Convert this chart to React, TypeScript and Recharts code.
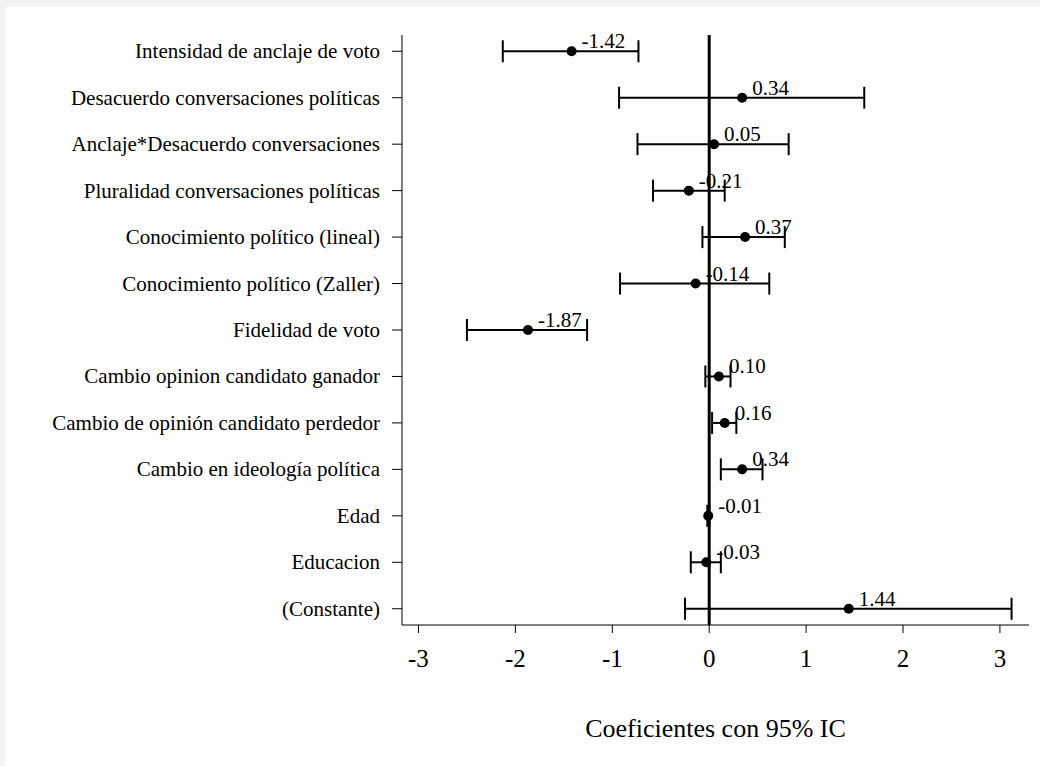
import {
  ScatterChart,
  Scatter,
  XAxis,
  YAxis,
  ErrorBar,
  ReferenceLine,
} from 'recharts'

const variables = [
  'Intensidad de anclaje de voto',
  'Desacuerdo conversaciones políticas',
  'Anclaje*Desacuerdo conversaciones',
  'Pluralidad conversaciones políticas',
  'Conocimiento político (lineal)',
  'Conocimiento político (Zaller)',
  'Fidelidad de voto',
  'Cambio opinion candidato ganador',
  'Cambio de opinión candidato perdedor',
  'Cambio en ideología política',
  'Edad',
  'Educacion',
  '(Constante)',
]
const coefs = [-1.42, 0.34, 0.05, -0.21, 0.37, -0.14, -1.87, 0.1, 0.16, 0.34, -0.01, -0.03, 1.44]
const lower = [-2.13, -0.93, -0.74, -0.58, -0.07, -0.92, -2.5, -0.04, 0.03, 0.12, -0.02, -0.19, -0.25]
const upper = [-0.73, 1.6, 0.82, 0.16, 0.78, 0.62, -1.26, 0.22, 0.28, 0.55, 0.0, 0.12, 3.12]
const xTicks = [-3, -2, -1, 0, 1, 2, 3]

const FONT = '"Liberation Serif", "Times New Roman", serif'

const data = coefs.map((c, i) => ({
  row: i,
  coef: c,
  err: [c - lower[i], upper[i] - c],
}))

function Dot(props: any) {
  const { cx, cy, payload } = props
  return (
    <g>
      <circle cx={cx} cy={cy} r={5} fill="#000" />
      <text x={cx + 10} y={cy - 3} fontSize={21} fontFamily={FONT} fill="#000">
        {payload.coef.toFixed(2)}
      </text>
    </g>
  )
}

function XTick(props: any) {
  const { x, y, payload } = props
  return (
    <text x={x} y={y + 30} textAnchor="middle" fontSize={25} fontFamily={FONT} fill="#000">
      {payload.value}
    </text>
  )
}

function YTick(props: any) {
  const { x, y, payload } = props
  return (
    <text x={x} y={y + 7} textAnchor="end" fontSize={21} fontFamily={FONT} fill="#000">
      {variables[payload.value]}
    </text>
  )
}

function XTitle(props: any) {
  const { viewBox } = props
  return (
    <text
      x={viewBox.x + viewBox.width / 2}
      y={viewBox.y + 112}
      textAnchor="middle"
      fontSize={26}
      fontFamily={FONT}
      fill="#000"
    >
      Coeficientes con 95% IC
    </text>
  )
}

export default function App() {
  return (
    <div
      style={{
        position: 'absolute',
        left: 0,
        top: 0,
        width: 1040,
        height: 766,
        background: '#f2f2f2',
      }}
    >
      <div style={{ position: 'absolute', left: 5, top: 7, width: 1035, height: 759, background: '#fff' }}>
        <ScatterChart width={1035} height={759} margin={{ top: 28, right: 11, bottom: 0, left: 0 }}>
          <XAxis
            type="number"
            dataKey="coef"
            domain={[-3.17, 3.3]}
            ticks={xTicks}
            allowDataOverflow
            height={141}
            tickSize={8}
            tickMargin={4}
            stroke="#000"
            tick={<XTick />}
            label={<XTitle />}
          />
          <YAxis
            type="number"
            dataKey="row"
            domain={[-0.35, 12.35]}
            reversed
            ticks={variables.map((_, i) => i)}
            interval={0}
            width={397}
            tickSize={10}
            tickMargin={12}
            stroke="#000"
            tick={<YTick />}
          />
          <ReferenceLine x={0} stroke="#000" strokeWidth={3} />
          <Scatter data={data} shape={Dot} isAnimationActive={false}>
            <ErrorBar
              dataKey="err"
              direction="x"
              width={11}
              stroke="#000"
              strokeWidth={2}
              isAnimationActive={false}
            />
          </Scatter>
        </ScatterChart>
      </div>
    </div>
  )
}
